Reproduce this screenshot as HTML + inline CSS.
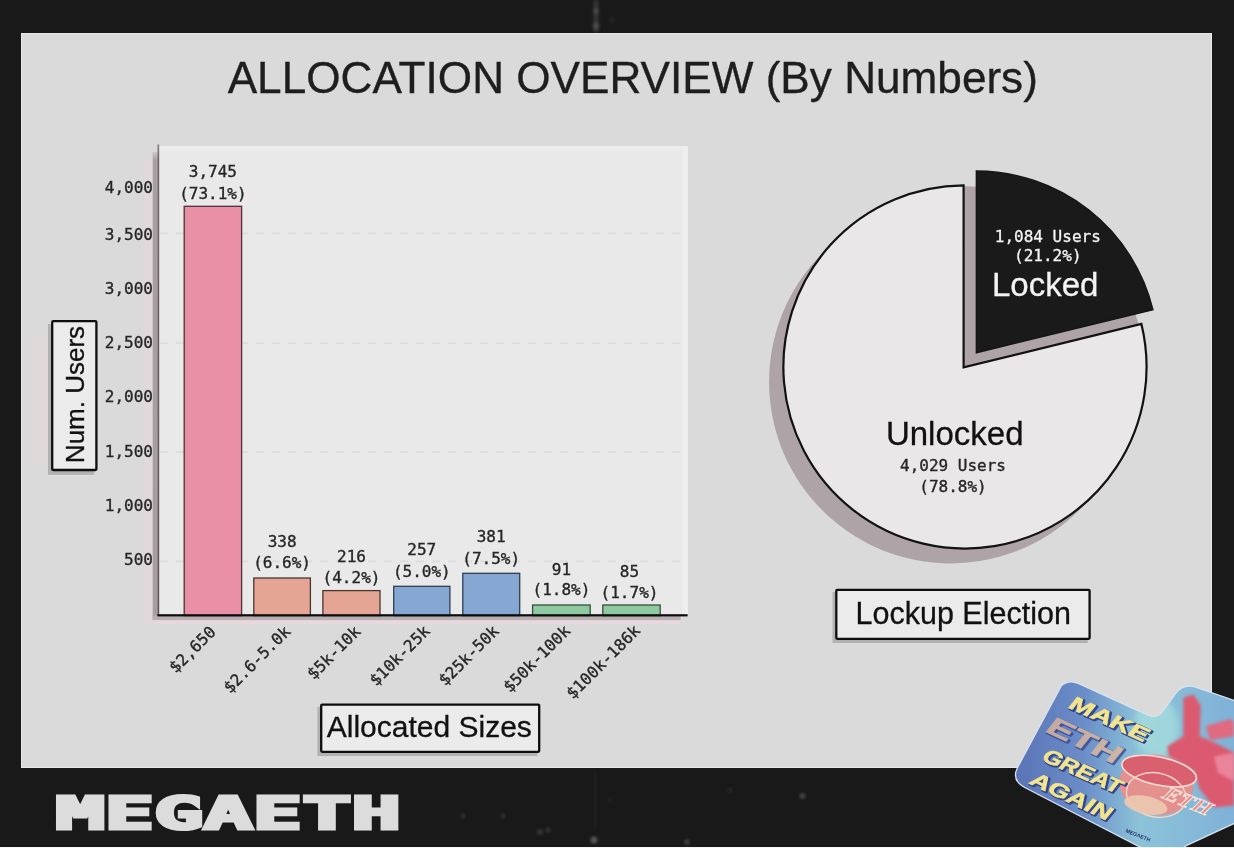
<!DOCTYPE html>
<html lang="en"><head><meta charset="utf-8"><title>Allocation Overview (By Numbers)</title>
<style>
html,body{margin:0;padding:0;background:#191919;}
body{width:1234px;height:848px;overflow:hidden;position:relative;}
svg{position:absolute;left:0;top:0;display:block;}
text{white-space:pre;}
.sans{font-family:"Liberation Sans",sans-serif;}
.mono{font-family:"DejaVu Sans Mono","Liberation Mono",monospace;}
</style></head><body>
<svg width="1234" height="848" viewBox="0 0 1234 848">
<defs>
<linearGradient id="holo" x1="0" y1="0" x2="1" y2="0">
<stop offset="0" stop-color="#5b74b6"/><stop offset="0.3" stop-color="#6a8dc8"/><stop offset="0.55" stop-color="#8cc3d8"/><stop offset="1" stop-color="#7fb0d8"/>
</linearGradient>
<linearGradient id="axfade" x1="0" y1="152" x2="0" y2="620" gradientUnits="userSpaceOnUse">
<stop offset="0" stop-color="#a89ea1" stop-opacity="0.3"/><stop offset="0.018" stop-color="#a89ea1"/><stop offset="1" stop-color="#a89ea1"/>
</linearGradient>
<linearGradient id="axfade2" x1="0" y1="144.5" x2="0" y2="615.5" gradientUnits="userSpaceOnUse">
<stop offset="0" stop-color="#8a8285"/><stop offset="0.03" stop-color="#6e6366"/><stop offset="1" stop-color="#5e5356"/>
</linearGradient>
<filter id="blur1" x="-50%" y="-50%" width="200%" height="200%"><feGaussianBlur stdDeviation="1.6"/></filter>
<filter id="blur2" x="-50%" y="-50%" width="200%" height="200%"><feGaussianBlur stdDeviation="3"/></filter>
</defs>
<rect width="1234" height="848" fill="#191919"/>

<rect x="21" y="33" width="1191" height="735" fill="#dadada"/>
<rect x="21.5" y="33.5" width="1190" height="734" fill="none" stroke="#e8e8e8" stroke-width="1"/>
<text class="sans" x="632.8" y="93.2" font-size="44.15" text-anchor="middle" fill="#1e1e1e" stroke="#1e1e1e" stroke-width="0.35">ALLOCATION OVERVIEW (By Numbers)</text>
<rect x="159" y="146" width="529" height="469" fill="#e9e9e9"/>
<rect x="159" y="146" width="529" height="4.5" fill="#ededed"/>
<rect x="682.5" y="146" width="5.5" height="469" fill="#eeeeee"/>
<line x1="160" x2="687" y1="233.4" y2="233.4" stroke="#dcdcdc" stroke-width="1.6" stroke-dasharray="8 8"/>
<line x1="160" x2="687" y1="343.1" y2="343.1" stroke="#dcdcdc" stroke-width="1.6" stroke-dasharray="8 8"/>
<line x1="160" x2="687" y1="452.1" y2="452.1" stroke="#dcdcdc" stroke-width="1.6" stroke-dasharray="8 8"/>
<line x1="160" x2="687" y1="561.4" y2="561.4" stroke="#dcdcdc" stroke-width="1.6" stroke-dasharray="8 8"/>
<rect x="144.2" y="160" width="8.6" height="464" fill="#e0d8da"/>
<rect x="152.7" y="620" width="528" height="4" fill="#e6d8dc"/>
<rect x="152.7" y="152" width="4.9" height="468" fill="url(#axfade)"/>
<rect x="152.7" y="615.5" width="528" height="4.6" fill="#b7afb2"/>
<rect x="184.2" y="206.3" width="57.4" height="409.3" fill="#e98fa6" stroke="#4e3039" stroke-width="1.3"/>
<text class="mono" x="212.9" y="176.7" font-size="16" text-anchor="middle" fill="#262626" stroke="#262626" stroke-width="0.35">3,745</text>
<text class="mono" x="212.9" y="198.5" font-size="16" text-anchor="middle" fill="#262626" stroke="#262626" stroke-width="0.35">(73.1%)</text>
<rect x="253.8" y="578.0" width="56.6" height="37.6" fill="#e5a594" stroke="#4a3630" stroke-width="1.3"/>
<text class="mono" x="282.1" y="547.1" font-size="16" text-anchor="middle" fill="#262626" stroke="#262626" stroke-width="0.35">338</text>
<text class="mono" x="282.1" y="567.9" font-size="16" text-anchor="middle" fill="#262626" stroke="#262626" stroke-width="0.35">(6.6%)</text>
<rect x="322.9" y="590.6" width="57.1" height="25.0" fill="#e5a594" stroke="#4a3630" stroke-width="1.3"/>
<text class="mono" x="351.5" y="562.2" font-size="16" text-anchor="middle" fill="#262626" stroke="#262626" stroke-width="0.35">216</text>
<text class="mono" x="351.5" y="583.2" font-size="16" text-anchor="middle" fill="#262626" stroke="#262626" stroke-width="0.35">(4.2%)</text>
<rect x="393.7" y="586.3" width="56.2" height="29.3" fill="#85a7d1" stroke="#2e3d55" stroke-width="1.3"/>
<text class="mono" x="421.8" y="555.0" font-size="16" text-anchor="middle" fill="#262626" stroke="#262626" stroke-width="0.35">257</text>
<text class="mono" x="421.8" y="576.7" font-size="16" text-anchor="middle" fill="#262626" stroke="#262626" stroke-width="0.35">(5.0%)</text>
<rect x="462.8" y="573.3" width="56.9" height="42.3" fill="#85a7d1" stroke="#2e3d55" stroke-width="1.3"/>
<text class="mono" x="491.2" y="542.1" font-size="16" text-anchor="middle" fill="#262626" stroke="#262626" stroke-width="0.35">381</text>
<text class="mono" x="491.2" y="563.6" font-size="16" text-anchor="middle" fill="#262626" stroke="#262626" stroke-width="0.35">(7.5%)</text>
<rect x="532.6" y="605.0" width="57.6" height="10.6" fill="#8fc9a1" stroke="#35503e" stroke-width="1.3"/>
<text class="mono" x="561.4" y="574.7" font-size="16" text-anchor="middle" fill="#262626" stroke="#262626" stroke-width="0.35">91</text>
<text class="mono" x="561.4" y="595.3" font-size="16" text-anchor="middle" fill="#262626" stroke="#262626" stroke-width="0.35">(1.8%)</text>
<rect x="602.8" y="605.0" width="57.4" height="10.6" fill="#8fc9a1" stroke="#35503e" stroke-width="1.3"/>
<text class="mono" x="629.5" y="576.7" font-size="16" text-anchor="middle" fill="#262626" stroke="#262626" stroke-width="0.35">85</text>
<text class="mono" x="629.5" y="597.9" font-size="16" text-anchor="middle" fill="#262626" stroke="#262626" stroke-width="0.35">(1.7%)</text>
<rect x="157.5" y="144.5" width="1.7" height="471" fill="url(#axfade2)"/>
<rect x="157.4" y="614.2" width="530.2" height="2.2" fill="#0c0c0c"/>
<text class="mono" x="153" y="564.5" font-size="16" text-anchor="end" fill="#262626" stroke="#262626" stroke-width="0.35">500</text>
<text class="mono" x="153" y="510.5" font-size="16" text-anchor="end" fill="#262626" stroke="#262626" stroke-width="0.35">1,000</text>
<text class="mono" x="153" y="456.5" font-size="16" text-anchor="end" fill="#262626" stroke="#262626" stroke-width="0.35">1,500</text>
<text class="mono" x="153" y="402.0" font-size="16" text-anchor="end" fill="#262626" stroke="#262626" stroke-width="0.35">2,000</text>
<text class="mono" x="153" y="347.5" font-size="16" text-anchor="end" fill="#262626" stroke="#262626" stroke-width="0.35">2,500</text>
<text class="mono" x="153" y="293.5" font-size="16" text-anchor="end" fill="#262626" stroke="#262626" stroke-width="0.35">3,000</text>
<text class="mono" x="153" y="239.5" font-size="16" text-anchor="end" fill="#262626" stroke="#262626" stroke-width="0.35">3,500</text>
<text class="mono" x="153" y="193.0" font-size="16" text-anchor="end" fill="#262626" stroke="#262626" stroke-width="0.35">4,000</text>
<text class="mono" transform="translate(216.7 633.0) rotate(-45)" font-size="16" text-anchor="end" fill="#262626" stroke="#262626" stroke-width="0.35">$2,650</text>
<text class="mono" transform="translate(291.5 632.6) rotate(-45)" font-size="16" text-anchor="end" fill="#262626" stroke="#262626" stroke-width="0.35">$2.6-5.0k</text>
<text class="mono" transform="translate(361.5 632.6) rotate(-45)" font-size="16" text-anchor="end" fill="#262626" stroke="#262626" stroke-width="0.35">$5k-10k</text>
<text class="mono" transform="translate(430.8 632.2) rotate(-45)" font-size="16" text-anchor="end" fill="#262626" stroke="#262626" stroke-width="0.35">$10k-25k</text>
<text class="mono" transform="translate(499.8 632.1) rotate(-45)" font-size="16" text-anchor="end" fill="#262626" stroke="#262626" stroke-width="0.35">$25k-50k</text>
<text class="mono" transform="translate(571.2 632.0) rotate(-45)" font-size="16" text-anchor="end" fill="#262626" stroke="#262626" stroke-width="0.35">$50k-100k</text>
<text class="mono" transform="translate(641.1 631.7) rotate(-45)" font-size="16" text-anchor="end" fill="#262626" stroke="#262626" stroke-width="0.35">$100k-186k</text>
<rect x="32" y="336" width="16" height="128" fill="#e1d8da" opacity="0.8"/>
<rect x="48.0" y="324.0" width="46.2" height="150.8" fill="#b3b0b1"/>
<rect x="52.2" y="321.2" width="44.2" height="148.8" rx="1" fill="#ebebeb" stroke="#0e0e0e" stroke-width="2.3"/>
<text class="sans" transform="translate(83.7 394.5) rotate(-90)" font-size="26" text-anchor="middle" fill="#111111" stroke="#111111" stroke-width="0.3">Num. Users</text>
<rect x="317.4" y="706.8000000000001" width="220.00000000000006" height="49.19999999999993" fill="#b3b0b1"/>
<rect x="321.2" y="704.6" width="218.00000000000006" height="47.19999999999993" rx="1" fill="#ebebeb" stroke="#0e0e0e" stroke-width="2.3"/>
<text class="sans" x="429.3" y="737" font-size="30" text-anchor="middle" fill="#111111" stroke="#111111" stroke-width="0.3">Allocated Sizes</text>
<rect x="832.5" y="592.0" width="255.29999999999995" height="51.0" fill="#b3b0b1"/>
<rect x="836.3" y="589.8" width="253.29999999999995" height="49.0" rx="1" fill="#ebebeb" stroke="#0e0e0e" stroke-width="2.3"/>
<text class="sans" x="963.2" y="624" font-size="30.5" text-anchor="middle" fill="#111111" stroke="#111111" stroke-width="0.3">Lockup Election</text>
<path d="M949.3 382.3 L949.3 200.3 A181.6 181.6 0 1 0 1127.1 338.9 Z" fill="#aea4a7"/>
<path d="M962.1 367.7 L962.1 186.1 A181.6 181.6 0 0 1 1138.6 324.7 Z" fill="#aea4a7"/>
<path d="M963.6 367.3 L963.6 185.3 A181.6 181.6 0 1 0 1141.4 323.9 Z" fill="#e9e7e8" stroke="#121212" stroke-width="2.2" stroke-linejoin="miter"/>
<path d="M976.4 352.7 L976.4 171.1 A181.6 181.6 0 0 1 1152.9 309.7 Z" fill="#1a1a1a" stroke="#161616" stroke-width="1.5" stroke-linejoin="miter"/>
<text class="mono" x="1047.8" y="242" font-size="16" text-anchor="middle" fill="#f4f4f4" stroke="#f4f4f4" stroke-width="0.3">1,084 Users</text>
<text class="mono" x="1047.8" y="261.3" font-size="16" text-anchor="middle" fill="#f4f4f4" stroke="#f4f4f4" stroke-width="0.3">(21.2%)</text>
<text class="sans" x="1045.2" y="296.3" font-size="33" text-anchor="middle" fill="#f4f4f4" stroke="#f4f4f4" stroke-width="0.3">Locked</text>
<text class="sans" x="954.7" y="444.8" font-size="33" text-anchor="middle" fill="#111111" stroke="#111111" stroke-width="0.3">Unlocked</text>
<text class="mono" x="953" y="470.5" font-size="16" text-anchor="middle" fill="#262626" stroke="#262626" stroke-width="0.35">4,029 Users</text>
<text class="mono" x="953" y="491.5" font-size="16" text-anchor="middle" fill="#262626" stroke="#262626" stroke-width="0.35">(78.8%)</text>
<text class="mono" x="55.4" y="828.7" font-size="44.4" font-weight="bold" textLength="345.5" lengthAdjust="spacingAndGlyphs" fill="#dcdcdc" stroke="#dcdcdc" stroke-width="3.2" stroke-linejoin="miter">MEGAETH</text>
<g opacity="0.9">
<circle cx="802.5" cy="796" r="3" fill="#ffffff" opacity="0.22" filter="url(#blur1)"/>
<circle cx="594" cy="840" r="3.5" fill="#ffffff" opacity="0.3" filter="url(#blur1)"/>
<circle cx="540" cy="832" r="3" fill="#ffffff" opacity="0.16" filter="url(#blur1)"/>
<circle cx="548" cy="830" r="2.5" fill="#ffffff" opacity="0.14" filter="url(#blur1)"/>
<circle cx="463" cy="816" r="2.5" fill="#ffffff" opacity="0.12" filter="url(#blur1)"/>
<circle cx="503" cy="816" r="2.5" fill="#ffffff" opacity="0.12" filter="url(#blur1)"/>
<circle cx="687" cy="842" r="3" fill="#ffffff" opacity="0.18" filter="url(#blur1)"/>
<circle cx="730" cy="790" r="2.5" fill="#ffffff" opacity="0.08" filter="url(#blur1)"/>
<circle cx="610" cy="800" r="2.5" fill="#ffffff" opacity="0.06" filter="url(#blur1)"/>
<rect x="593.5" y="0" width="5" height="32" fill="#ffffff" opacity="0.14" filter="url(#blur1)"/>
<circle cx="596" cy="11" r="3" fill="#ffffff" opacity="0.12" filter="url(#blur1)"/>
<circle cx="596" cy="26" r="3.5" fill="#ffffff" opacity="0.14" filter="url(#blur1)"/>
<circle cx="612" cy="20" r="3" fill="#ffffff" opacity="0.06" filter="url(#blur1)"/>
<rect x="594" y="770" width="3" height="60" fill="#ffffff" opacity="0.04" filter="url(#blur1)"/>
</g>
<g id="sticker">
<clipPath id="stclip"><path d="M1062 686 Q1069 680 1078 684 L1148 716 Q1158 720 1164 711 L1176 694 Q1184 684 1196 688 L1240 703 L1240 820 L1186 845 L1180 850 L1147 850 L1025 787 Q1012 780 1018 768 Z"/></clipPath>
<path d="M1062 686 Q1069 680 1078 684 L1148 716 Q1158 720 1164 711 L1176 694 Q1184 684 1196 688 L1240 703 L1240 820 L1186 845 L1180 850 L1147 850 L1025 787 Q1012 780 1018 768 Z" fill="#d9e2f2" stroke="#d9e2f2" stroke-width="2.5" stroke-linejoin="round"/>
<path d="M1062 686 Q1069 680 1078 684 L1148 716 Q1158 720 1164 711 L1176 694 Q1184 684 1196 688 L1240 703 L1240 820 L1186 845 L1180 850 L1147 850 L1025 787 Q1012 780 1018 768 Z" fill="url(#holo)"/>
<g clip-path="url(#stclip)">
<ellipse cx="1156.9" cy="728.0" rx="22" ry="30" fill="#a5dcdc" opacity="0.8" filter="url(#blur2)"/>
<polygon points="1183.4,697.4 1193.6,694.4 1200.7,705.6 1199.7,736.2 1214.0,742.3 1234.0,752.5 1234.0,805.6 1214.0,807.6 1199.7,789.2 1193.6,770.9 1169.1,756.6 1167.1,746.4 1183.4,736.2" fill="#dc5a70" filter="url(#blur1)"/>
<polygon points="1205.8,726.0 1230.3,718.9 1234.0,721.9 1234.0,736.2 1209.9,740.3" fill="#e06a80" filter="url(#blur1)"/>
<polygon points="1214.0,756.6 1234.0,752.5 1234.0,781.1 1218.1,772.9" fill="#ee8fa6" opacity="0.8" filter="url(#blur1)"/>
<g transform="translate(1157.9 777.0) rotate(12)">
<ellipse cx="0" cy="8" rx="37" ry="30" fill="#e3908f"/>
<ellipse cx="0" cy="-6" rx="38" ry="14" fill="#d9606e" stroke="#f6dcd0" stroke-width="1.6"/>
<ellipse cx="2" cy="18" rx="30" ry="22" fill="none" stroke="#f4d4c8" stroke-width="1.4"/>
<ellipse cx="-6" cy="30" rx="22" ry="9" fill="#ecc9b0" opacity="0.9"/>
</g>
<text transform="translate(1161.0 797.4) rotate(22) skewX(-12)" font-family='"Liberation Serif",serif' font-style="italic" font-weight="bold" font-size="20" fill="#e88f8c" stroke="#f8e6dc" stroke-width="0.9" textLength="50" lengthAdjust="spacingAndGlyphs">ETH</text>
<g opacity="1">
<text class="sans" transform="translate(1068.3 708.4) rotate(24.5) skewX(-14)" font-weight="bold" font-size="20" textLength="84" lengthAdjust="spacingAndGlyphs" fill="#34468c" stroke="#34468c" stroke-width="2.2" stroke-linejoin="round">MAKE</text>
<text class="sans" transform="translate(1067.1 707.2) rotate(24.5) skewX(-14)" font-weight="bold" font-size="20" textLength="84" lengthAdjust="spacingAndGlyphs" fill="#f2e58f" stroke="#f2e58f" stroke-width="0.6" stroke-linejoin="round" >MAKE</text>
</g>
<g opacity="0.75">
<text class="sans" transform="translate(1044.9 732.3) rotate(25) skewX(-14)" font-weight="bold" font-size="26" textLength="78" lengthAdjust="spacingAndGlyphs" fill="#34468c" stroke="#34468c" stroke-width="2.2" stroke-linejoin="round">ETH</text>
<text class="sans" transform="translate(1043.7 731.1) rotate(25) skewX(-14)" font-weight="bold" font-size="26" textLength="78" lengthAdjust="spacingAndGlyphs" fill="#e6b999" stroke="#e6b999" stroke-width="0.6" stroke-linejoin="round" >ETH</text>
</g>
<g opacity="1">
<text class="sans" transform="translate(1041.4 760.9) rotate(24) skewX(-14)" font-weight="bold" font-size="20" textLength="84" lengthAdjust="spacingAndGlyphs" fill="#34468c" stroke="#34468c" stroke-width="2.2" stroke-linejoin="round">GREAT</text>
<text class="sans" transform="translate(1040.2 759.7) rotate(24) skewX(-14)" font-weight="bold" font-size="20" textLength="84" lengthAdjust="spacingAndGlyphs" fill="#f2e58f" stroke="#f2e58f" stroke-width="0.6" stroke-linejoin="round" >GREAT</text>
</g>
<g opacity="1">
<text class="sans" transform="translate(1029.2 784.3) rotate(25.5) skewX(-14)" font-weight="bold" font-size="20" textLength="87" lengthAdjust="spacingAndGlyphs" fill="#34468c" stroke="#34468c" stroke-width="2.2" stroke-linejoin="round">AGAIN</text>
<text class="sans" transform="translate(1028.0 783.1) rotate(25.5) skewX(-14)" font-weight="bold" font-size="20" textLength="87" lengthAdjust="spacingAndGlyphs" fill="#f2e58f" stroke="#f2e58f" stroke-width="0.6" stroke-linejoin="round" >AGAIN</text>
</g>
<text class="sans" transform="translate(1125.3 832.1) rotate(22)" font-weight="bold" font-size="5.5" fill="#26356e" textLength="26" lengthAdjust="spacingAndGlyphs">MEGAETH</text>
</g>
</g>
<rect x="0" y="847" width="1234" height="1" fill="#f4f4f4"/>
</svg></body></html>
